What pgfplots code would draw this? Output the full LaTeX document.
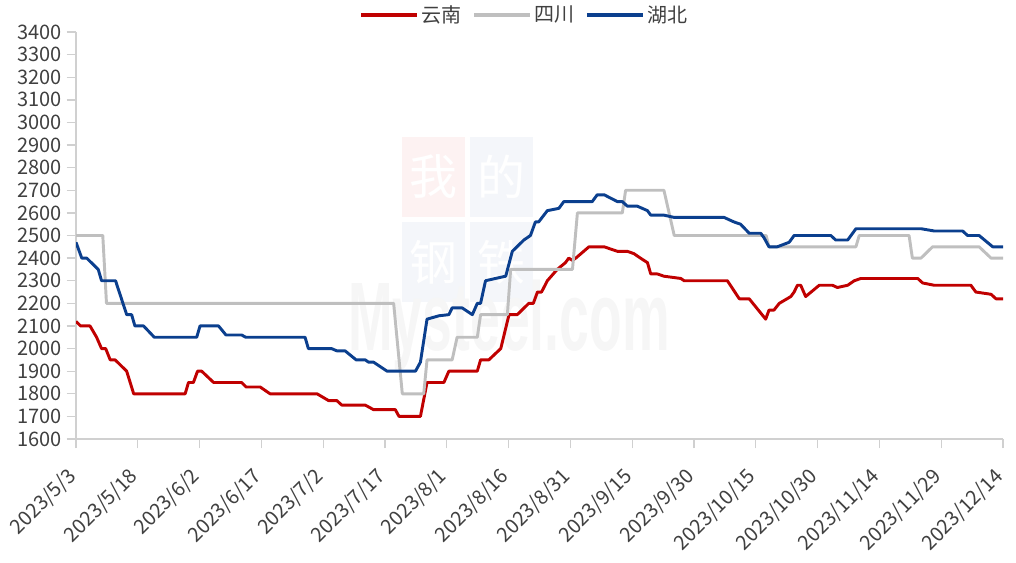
\documentclass[border=0pt]{standalone}
\usepackage{fontspec}
\setmainfont{Noto Sans CJK SC}
\newfontfamily\wmfont{Liberation Sans}
\usepackage{pgfplots}
\pgfplotsset{compat=1.18}
\definecolor{cred}{HTML}{C00000}
\definecolor{cgray}{HTML}{BFBFBF}
\definecolor{cblue}{HTML}{0B3F8E}
\definecolor{ctext}{HTML}{404040}
\definecolor{caxis}{HTML}{D0D0D0}
\definecolor{wmred}{HTML}{FDF2F2}
\definecolor{wmblue}{HTML}{F4F6FA}
\definecolor{wmgray}{HTML}{F6F6F6}
\begin{document}
\begin{tikzpicture}[x=1pt,y=1pt]
\path[use as bounding box] (0,0) rectangle (762,421.5);
% faint watermark
\fill[wmred] (301.5,258.75) rectangle (348.75,318.75);
\fill[wmblue] (352.5,258.75) rectangle (399.75,318.75);
\fill[wmblue] (301.5,195) rectangle (348.75,255);
\fill[wmblue] (352.5,195) rectangle (399.75,255);
\node[white, font=\fontsize{36}{40}\selectfont] at (325.1,288.75) {我};
\node[white, font=\fontsize{36}{40}\selectfont] at (376.1,288.75) {的};
\node[white, font=\fontsize{36}{40}\selectfont] at (325.1,225) {钢};
\node[white, font=\fontsize{36}{40}\selectfont] at (376.1,225) {铁};
\node[wmgray, anchor=base, xscale=0.55, font=\fontsize{73}{80}\selectfont\wmfont\bfseries] at (381.75,159) {Mysteel.com};
\begin{axis}[
  at={(57pt,92.25pt)}, anchor=south west,
  scale only axis, width=695.25pt, height=305.25pt,
  xmin=0, xmax=225, ymin=1600, ymax=3400,
  axis x line*=bottom, axis y line*=left,
  axis line style={caxis, line width=1pt},
  xtick={0,15,...,225},
  xticklabels={2023/5/3,2023/5/18,2023/6/2,2023/6/17,2023/7/2,2023/7/17,2023/8/1,2023/8/16,2023/8/31,2023/9/15,2023/9/30,2023/10/15,2023/10/30,2023/11/14,2023/11/29,2023/12/14},
  ytick={1600,1700,...,3400},
  tick align=outside, major tick length=7pt,
  tick style={caxis, line width=1pt},
  xticklabel style={rotate=45, anchor=east, font=\fontsize{15}{18}\selectfont, text=ctext},
  xticklabel shift=16pt,
  yticklabel style={font=\fontsize{15}{18}\selectfont, text=ctext},
  /pgf/number format/assume math mode=true,
  /pgf/number format/1000 sep={},
  legend columns=3,
  legend style={draw=none, fill=none, at={(0.484,1)}, anchor=center, yshift=12.75pt,
    font=\fontsize{15}{18}\selectfont, text=ctext,
    /tikz/every even column/.append style={column sep=6pt}},
  legend image code/.code={\draw[#1, line width=2.6pt] (0pt,0pt) -- (42pt,0pt);},
]
\addplot[cred, line width=2.2pt, line join=round] coordinates {
(0,2120) (1.1,2100) (3.4,2100) (5,2050) (6.2,2000) (7.2,2000) (8.3,1950) (9.5,1950) (12.3,1900) (14,1800) (26.5,1800) (27.3,1850) (28.5,1850) (29.5,1900) (30.5,1900) (33.4,1850) (40.2,1850) (41.3,1830) (44.7,1830) (47.1,1800) (58.5,1800) (61.3,1770) (63.3,1770) (64.5,1750) (70.2,1750) (72.2,1730) (77.5,1730) (78.4,1700) (83.6,1700) (85.2,1850) (89.3,1850) (90.5,1900) (97.4,1900) (98.2,1950) (100.2,1950) (103.1,2000) (105.1,2150) (107.1,2150) (109.9,2200) (111,2200) (112,2250) (113,2250) (114.4,2300) (116.8,2350) (118.8,2380) (119.6,2400) (120.5,2390) (121.3,2400) (124.5,2450) (128.2,2450) (131.4,2430) (133.8,2430) (135.4,2420) (137,2400) (138.7,2380) (139.5,2330) (141.1,2330) (142.7,2320) (146.8,2310) (147.6,2300) (158.1,2300) (161,2220) (163.4,2220) (167.4,2130) (168.2,2170) (169.4,2170) (170.7,2200) (173.5,2230) (174.3,2250) (175.1,2280) (175.9,2280) (177.1,2230) (180.4,2280) (183.6,2280) (184.8,2270) (187.3,2280) (188.9,2300) (190.5,2310) (204.3,2310) (205.5,2290) (208.3,2280) (217.2,2280) (218.4,2250) (222.1,2240) (223.3,2220) (225,2220)
};
\addlegendentry{云南}
\addplot[cgray, line width=2.2pt, line join=round] coordinates {
(0,2500) (6.5,2500) (7.4,2200) (77.1,2200) (79.2,1800) (84.4,1800) (85.2,1950) (91.3,1950) (92.5,2050) (97.4,2050) (98.2,2150) (104.7,2150) (105.5,2350) (120.5,2350) (121.7,2600) (132.6,2600) (133.4,2700) (142.7,2700) (145.2,2500) (167.5,2500) (168.2,2450) (189.3,2450) (190.1,2500) (202.2,2500) (203,2400) (205.1,2400) (207.9,2450) (219.2,2450) (222.1,2400) (225,2400)
};
\addlegendentry{四川}
\addplot[cblue, line width=2.2pt, line join=round] coordinates {
(0,2470) (1.4,2400) (2.6,2400) (5.4,2350) (6.2,2300) (9.6,2300) (12.3,2150) (13.5,2150) (14.3,2100) (16.4,2100) (19,2050) (29.3,2050) (30.1,2100) (34.6,2100) (36.4,2060) (40.2,2060) (41.2,2050) (55.6,2050) (56.4,2000) (62,2000) (63.3,1990) (65.3,1990) (68,1950) (70.2,1950) (71,1940) (72.2,1940) (75.5,1900) (82.4,1900) (83.6,1940) (85.2,2130) (88.1,2145) (90.5,2150) (91.3,2180) (93.7,2180) (96.2,2150) (97.4,2200) (98.2,2200) (99.4,2300) (101.8,2310) (104.3,2320) (105.9,2430) (108.7,2480) (110.3,2500) (111.5,2560) (112.3,2560) (114.4,2610) (117.2,2620) (118.4,2650) (125.3,2650) (126.5,2680) (128.2,2680) (131.4,2650) (132.6,2650) (133.8,2630) (136.2,2630) (138.7,2610) (139.5,2590) (142.7,2590) (145.2,2580) (157.3,2580) (159.7,2560) (161.3,2550) (163.4,2510) (166.2,2510) (167,2490) (168.2,2450) (170.2,2450) (173.1,2470) (174.3,2500) (183.2,2500) (184.4,2480) (187.3,2480) (189.3,2530) (205.1,2530) (208.3,2520) (215.2,2520) (216.4,2500) (219.2,2500) (222.5,2450) (225,2450)
};
\addlegendentry{湖北}
\end{axis}
\end{tikzpicture}
\end{document}
